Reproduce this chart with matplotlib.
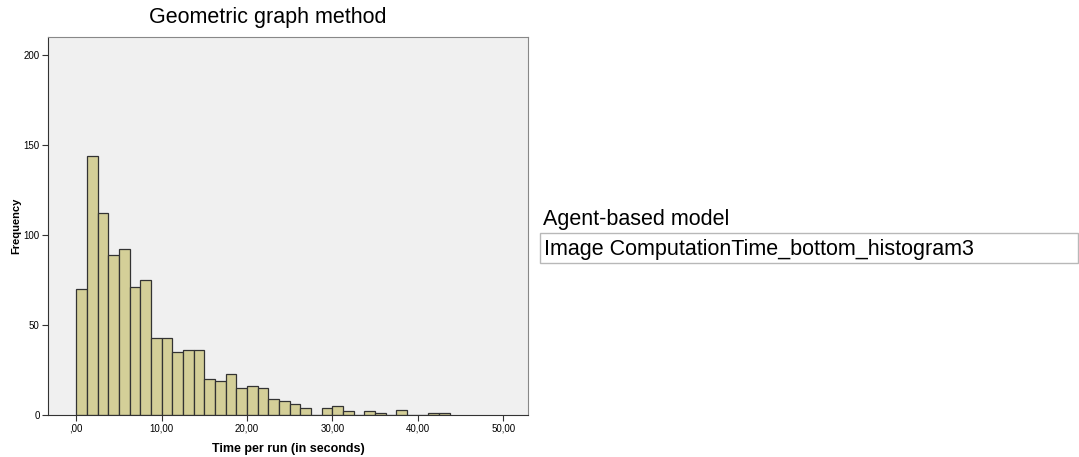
import numpy as np
import matplotlib.pyplot as plt

plt.rcParams['font.family'] = ['Liberation Sans', 'DejaVu Sans']

# histogram counts, bins of 1.25 s starting at 0
bin_width = 1.25
counts = [70, 144, 112, 89, 92, 71, 75, 43, 43, 35, 36, 36,
          20, 19, 23, 15, 16, 15, 9, 8, 6, 4, 0, 4, 5, 2,
          0, 2, 1, 0, 3, 0, 0, 1, 1]
x_ticks = [0, 10, 20, 30, 40, 50]
x_tick_labels = [',00', '10,00', '20,00', '30,00', '40,00', '50,00']
y_ticks = [0, 50, 100, 150, 200]

edges = np.arange(len(counts)) * bin_width

fig = plt.figure(figsize=(10.79, 4.57), dpi=100)
ax = fig.add_axes([48 / 1079, 1 - 415 / 457, 480 / 1079, 378 / 457])
ax.set_facecolor('#f0f0f0')
ax.bar(edges, counts, width=bin_width, align='edge',
       color='#d4cf98', edgecolor='#333333', linewidth=0.9)

ax.set_xlim(-3.3, 52.9)
ax.set_ylim(0, 210)
ax.set_xticks(x_ticks)
ax.set_xticklabels(x_tick_labels)
ax.set_yticks(y_ticks)
ax.tick_params(labelsize=7, length=4, width=0.8, color='#333333', pad=2)
for s in ax.spines.values():
    s.set_color('#888888')
ax.spines['left'].set_color('#333333')
ax.spines['bottom'].set_color('#333333')

ax.set_xlabel('Time per run (in seconds)', fontsize=9, fontweight='bold', labelpad=7)
ax.set_ylabel('Frequency', fontsize=8, fontweight='bold', labelpad=2)

fig.text(268 / 1079, 1 - 18 / 457, 'Geometric graph method', fontsize=15.5,
         ha='center', va='center')

fig.text(543 / 1079, 1 - 219 / 457, 'Agent-based model', fontsize=15.5, va='center')
box = plt.Rectangle((540 / 1079, 1 - 263 / 457), 538 / 1079, 30 / 457,
                    transform=fig.transFigure, facecolor='white',
                    edgecolor='#b8b8b8', linewidth=1)
fig.patches.append(box)
fig.text(544 / 1079, 1 - 250 / 457, 'Image ComputationTime_bottom_histogram3',
         fontsize=15.5, va='center')

fig.savefig('out.png', dpi=100)
